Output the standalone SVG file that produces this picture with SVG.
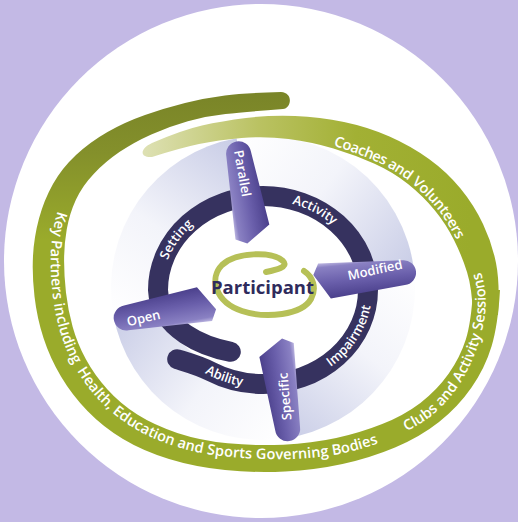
<svg xmlns="http://www.w3.org/2000/svg" width="518" height="522" viewBox="0 0 518 522">
<style>
.lbl{font-family:"Open Sans","Noto Sans",sans-serif;font-weight:600;fill:#fff}
.band{font-size:14.5px}
.ringt{font-size:13px}
.armt{font-size:13px}
</style>
<defs>
  <linearGradient id="gA" gradientUnits="userSpaceOnUse" x1="0" y1="95" x2="0" y2="240">
    <stop offset="0" stop-color="#7a8528"/>
    <stop offset="0.4" stop-color="#84902b"/>
    <stop offset="1" stop-color="#9aab2b"/>
  </linearGradient>
  <linearGradient id="gB" gradientUnits="userSpaceOnUse" x1="145" y1="0" x2="470" y2="0">
    <stop offset="0" stop-color="#dde0b2"/>
    <stop offset="0.35" stop-color="#bac262"/>
    <stop offset="0.65" stop-color="#a2b034"/>
    <stop offset="1" stop-color="#9aab2b"/>
  </linearGradient>
  <linearGradient id="h1" gradientUnits="userSpaceOnUse" x1="236.6" y1="138.3" x2="414.2" y2="272.1">
    <stop offset="0" stop-color="#fff"/><stop offset="0.45" stop-color="#f3f4fa"/><stop offset="1" stop-color="#c8cce6"/>
  </linearGradient>
  <linearGradient id="h2" gradientUnits="userSpaceOnUse" x1="414.2" y1="272.1" x2="284.2" y2="438.5">
    <stop offset="0" stop-color="#fff"/><stop offset="0.45" stop-color="#f3f4fa"/><stop offset="1" stop-color="#c8cce6"/>
  </linearGradient>
  <linearGradient id="h3" gradientUnits="userSpaceOnUse" x1="284.2" y1="438.5" x2="113.3" y2="314.4">
    <stop offset="0" stop-color="#fff"/><stop offset="0.45" stop-color="#f3f4fa"/><stop offset="1" stop-color="#c8cce6"/>
  </linearGradient>
  <linearGradient id="h4" gradientUnits="userSpaceOnUse" x1="113.3" y1="314.4" x2="236.6" y2="138.3">
    <stop offset="0" stop-color="#fff"/><stop offset="0.45" stop-color="#f3f4fa"/><stop offset="1" stop-color="#c8cce6"/>
  </linearGradient>
  <linearGradient id="armFill" gradientUnits="userSpaceOnUse" x1="0" y1="-18" x2="0" y2="18">
    <stop offset="0" stop-color="#bdb7e1"/>
    <stop offset="0.12" stop-color="#8a81c3"/>
    <stop offset="0.55" stop-color="#6a5fab"/>
    <stop offset="1" stop-color="#4b408c"/>
  </linearGradient>
  <path id="armShape" d="M-4,-18 L80,-12.5 A12.5,12.5 0 0 1 80,12.5 L5,18 L-10,-7 Z" fill="url(#armFill)"/>
  <!-- baselines for the ring words -->
  <path id="tSetting" d="M163.5,274.4 A101,90 0 0 1 205.1,216.3"/>
  <path id="tActivity" d="M277.1,200.9 A101,90 0 0 1 343.7,235.8"/>
  <path id="tAbility" d="M179.5,353 A109,98 0 0 0 274.4,387.5"/>
  <path id="tImpair" d="M309.1,378.8 A109,98 0 0 0 371.6,281.5"/>
  <!-- baselines for the spiral words -->
  <path id="pKey" d="M72.2,176.9 Q57.6,207.3 54.3,224.3 Q51,241.2 50.8,258.1 Q50.5,275 52.7,294.3 Q54.9,313.5 60.2,331.6 Q65.4,349.7 74.9,366.9 Q84.4,384.1 98.4,399.4 Q112.3,414.6 130.6,426.1 Q148.8,437.6 173.3,445.7 Q197.7,453.7 226.4,456.6 Q255,459.5 284.2,459.1 Q313.4,458.7 340.2,453.9 Q367,449 414,430"/>
  <path id="pClubs" d="M367,449 Q414,430 431.8,415.5 Q449.5,401 461.1,381.8 Q472.6,362.6 478.7,343 Q484.7,323.4 485.6,306.7 Q486.5,290 481,272.1 Q475.4,254.2 458.9,219.9"/>
  <path id="pCoach" d="M313,139.2 Q356.7,152.6 376,161.3 Q395.3,170 410.5,182.3 Q425.6,194.6 437.3,208.9 Q448.9,223.1 465,255.6"/>
</defs>

<!-- backdrop -->
<rect width="518" height="522" fill="#c3b9e5"/>
<circle cx="261" cy="261" r="257" fill="#fff"/>

<!-- pinwheel shading behind the inner ring -->
<g id="halo">
  <path d="M263,288 L236.6,138.3 A152,152 0 0 1 414.2,272.1 Z" fill="url(#h1)"/>
  <path d="M263,288 L414.2,272.1 A152,152 0 0 1 284.2,438.5 Z" fill="url(#h2)"/>
  <path d="M263,288 L284.2,438.5 A152,152 0 0 1 113.3,314.4 Z" fill="url(#h3)"/>
  <path d="M263,288 L113.3,314.4 A152,152 0 0 1 236.6,138.3 Z" fill="url(#h4)"/>
  <ellipse cx="263" cy="290" rx="100" ry="89" fill="#fff"/>
</g>

<!-- outer green spiral with its partner labels -->
<g id="spiral">
  <path fill="url(#gA)" d="M281,92 Q245,93 225,95.5 Q205,98 185,103 Q165,108 145,115 Q125,122 107.5,132 Q90,142 76,155 Q62,168 53,184 Q44,200 39,218.5 Q34,237 33,256 Q32,275 34.5,296.5 Q37,318 43.5,338 Q50,358 61,376.5 Q72,395 87.5,411 Q103,427 123,439 Q143,451 169,459 Q195,467 225,470 Q255,473 285,471.5 Q315,470 342.5,464 Q370,458 395,447.5 Q420,437 439,422 Q458,407 471.5,387.5 Q485,368 491.5,346.5 Q498,325 500,290 L473,290 Q471.3,321.8 465.8,339.5 Q460.2,357.2 448.6,373.8 Q436.9,390.3 420.4,402.9 Q403.8,415.4 382.2,424 Q360.6,432.6 336.2,438 Q311.8,443.3 283.4,444.7 Q255,446 227.7,443.3 Q200.4,440.5 177.3,432.9 Q154.2,425.2 137.3,414.5 Q120.4,403.8 107.5,389.5 Q94.5,375.2 85.9,359.3 Q77.3,343.4 72.7,326.9 Q68,310.3 66,292.7 Q64,275 64.1,259.7 Q64.1,244.4 66.8,229 Q69.5,213.6 75.9,199.7 Q82.3,185.8 93.7,173.9 Q105,162 119.4,152.1 Q133.8,142.2 151.3,134.4 Q168.8,126.6 187.8,121.2 Q206.8,115.8 225.6,113.9 Q244.4,112 283,109 C291,108.5 294,93 281,92 Z"/>
  <path fill="url(#gB)" d="M498,315 Q500,283 496,263 Q492,243 483,224 Q474,205 460.5,188.5 Q447,172 429,159 Q411,146 389.5,136.5 Q368,127 344,122 Q320,117 295,116 Q270,115 246,118 Q222,121 202,125.5 Q182,130 152,143 C139,149 140,158 152,157 Q180,148 199,144 Q218,140 241.5,138 Q265,136 288.5,139 Q312,142 333.5,148.5 Q355,155 374,163.5 Q393,172 408,184 Q423,196 434.5,210 Q446,224 454,240 Q462,256 467,272 Q472,288 473,315 Z"/>
  <text class="lbl band"><textPath href="#pKey" startOffset="37" textLength="158">Key Partners including</textPath></text>
  <text class="lbl band"><textPath href="#pKey" startOffset="202" textLength="155">Health, Education and</textPath></text>
  <text class="lbl band"><textPath href="#pKey" startOffset="361" textLength="174">Sports Governing Bodies</textPath></text>
  <text class="lbl band"><textPath href="#pClubs" startOffset="43" textLength="190">Clubs and Activity Sessions</textPath></text>
  <text class="lbl band"><textPath href="#pCoach" startOffset="21" textLength="83.6">Coaches and</textPath></text>
  <text class="lbl band"><textPath href="#pCoach" startOffset="108.4" textLength="73.8">Volunteers</textPath></text>
</g>

<!-- inner navy spiral ring -->
<g id="ring">
  <path d="M230.8,351.8 C205,347 160,330 158,290 A105,94 0 0 1 263,196 A105,94 0 0 1 368,290 A105,94 0 0 1 263,384 A105,94 0 0 1 210.5,371.4 C199,365.4 185.8,361.9 177.2,359.2" fill="none" stroke="#36325f" stroke-width="20" stroke-linecap="round"/>
  <text class="lbl ringt"><textPath href="#tSetting" startOffset="50%" text-anchor="middle">Setting</textPath></text>
  <text class="lbl ringt"><textPath href="#tActivity" startOffset="50%" text-anchor="middle">Activity</textPath></text>
  <text class="lbl ringt"><textPath href="#tAbility" startOffset="50%" text-anchor="middle">Ability</textPath></text>
  <text class="lbl ringt"><textPath href="#tImpair" startOffset="50%" text-anchor="middle">Impairment</textPath></text>
</g>

<!-- four arms -->
<g id="arm-parallel">
  <use href="#armShape" transform="translate(252.5,232.5) rotate(-100)"/>
  <text class="lbl armt" transform="translate(242.5,173.5) rotate(80)" y="4.5" text-anchor="middle">Parallel</text>
</g>
<g id="arm-modified">
  <use href="#armShape" transform="translate(324,281) rotate(-6)"/>
  <text class="lbl armt" transform="translate(375,270) rotate(-12)" y="4.5" text-anchor="middle">Modified</text>
</g>
<g id="arm-specific">
  <use href="#armShape" transform="translate(276.5,349.5) rotate(82)"/>
  <text class="lbl armt" transform="translate(285,396.5) rotate(-95)" y="4.5" text-anchor="middle">Specific</text>
</g>
<g id="arm-open">
  <use href="#armShape" transform="translate(205,304) rotate(170)"/>
  <text class="lbl armt" transform="translate(143.5,318) rotate(-13)" y="4.5" text-anchor="middle">Open</text>
</g>

<!-- centre -->
<g id="participant">
  <path d="M266,272 C276,270 289,267 283,261 C272,251 236,252 222,265 C209,278 215,302 242,311 C266,319 302,315 311,299 C317,288 313,277 304,271" fill="none" stroke="#b6c057" stroke-width="6" stroke-linecap="round"/>
  <text x="262.5" y="293.5" text-anchor="middle" font-family="'Open Sans','Noto Sans',sans-serif" font-size="18.5" font-weight="700" fill="#2f2b5c">Participant</text>
</g>
</svg>
